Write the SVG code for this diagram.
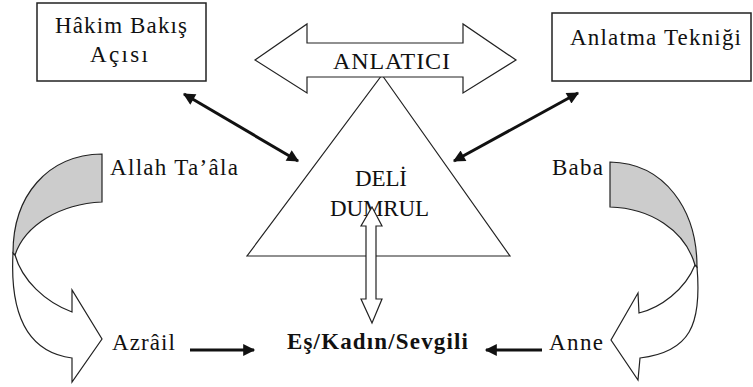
<svg xmlns="http://www.w3.org/2000/svg" width="753" height="387" viewBox="0 0 753 387">
<style>
text{font-family:'Liberation Serif','DejaVu Serif',serif;font-size:23px;fill:#111;}
.b{font-weight:bold;}
.box{fill:#fff;stroke:#222;stroke-width:1.5;}
.sh{fill:#fff;stroke:#222;stroke-width:1.2;stroke-linejoin:miter;}
.gr{fill:#cccccc;stroke:#222;stroke-width:1.2;}
.ln{stroke:#111;stroke-width:3;fill:none;}
</style>
<defs>
<marker id="ah" viewBox="0 0 10 10" refX="9" refY="5" markerWidth="5" markerHeight="4" markerUnits="strokeWidth" orient="auto-start-reverse">
<path d="M0,0 L10,5 L0,10 Z" fill="#111"/>
</marker>
</defs>

<g id="hakim">
<rect class="box" x="37" y="3" width="169" height="78"/>
<text x="55" y="33" textLength="132" lengthAdjust="spacing">Hâkim Bakış</text>
<text x="90" y="62" textLength="58" lengthAdjust="spacing">Açısı</text>
</g>

<g id="teknik">
<rect class="box" x="552" y="13" width="199" height="68"/>
<text x="570" y="45" textLength="171" lengthAdjust="spacing">Anlatma Tekniği</text>
</g>

<g id="deli-dumrul">
<polygon class="sh" points="382,75 510,256 247,256"/>
<text x="355" y="186" textLength="52" lengthAdjust="spacing">DELİ</text>
<text x="330" y="216" textLength="99" lengthAdjust="spacing">DUMRUL</text>
</g>

<g id="anlatici">
<polygon class="sh" points="255,60 307,24 307,43 463,43 463,24 516,60 463,93 463,77 307,77 307,93"/>
<text x="333" y="69" textLength="117" lengthAdjust="spacing" style="font-size:24px">ANLATICI</text>
</g>

<g id="vertical-arrow">
<polygon class="sh" points="372,207 382,226 376,226 376,299 382,299 372,323 361,299 366,299 366,226 361,226"/>
</g>

<g id="allah-curve">
<path class="sh" d="M13,253 C10,310 25,352 72,358 L72,382 L102,339 L72,290 L72,312 C45,302 22,280 15,255 Z"/>
<path class="gr" d="M102,154 L102,202 C60,204 25,225 15,255 L13,253 C13,196 47,155 102,154 Z"/>
</g>

<g id="baba-curve">
<path class="sh" d="M697,267 C702,325 690,352 640,358 L638,380 L611,340 L638,293 L639,313 C660,308 685,290 695,265 Z"/>
<path class="gr" d="M610,162 L610,207 C650,208 685,230 695,265 L697,267 C697,210 665,163 610,162 Z"/>
</g>

<g id="allah"><text x="110" y="175" textLength="128" lengthAdjust="spacing">Allah Ta’âla</text></g>
<g id="azrail"><text x="112" y="350" textLength="63" lengthAdjust="spacing">Azrâil</text></g>
<g id="baba"><text x="552" y="175" textLength="51" lengthAdjust="spacing">Baba</text></g>
<g id="anne"><text x="549" y="350" textLength="54" lengthAdjust="spacing">Anne</text></g>
<g id="es"><text class="b" x="287" y="349" textLength="181" lengthAdjust="spacing">Eş/Kadın/Sevgili</text></g>

<g id="connectors">
<line class="ln" x1="184" y1="94" x2="298" y2="161" marker-start="url(#ah)" marker-end="url(#ah)"/>
<line class="ln" x1="454" y1="161" x2="578" y2="93" marker-start="url(#ah)" marker-end="url(#ah)"/>
<line class="ln" x1="190" y1="350" x2="254" y2="350" marker-end="url(#ah)"/>
<line class="ln" x1="542" y1="350" x2="486" y2="350" marker-end="url(#ah)"/>
</g>
</svg>
